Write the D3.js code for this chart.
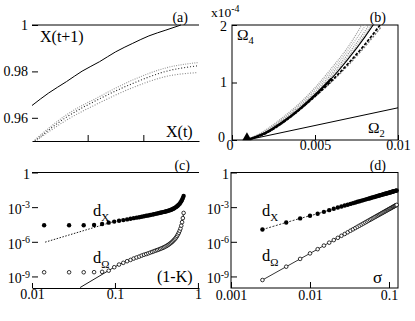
<!DOCTYPE html>
<html><head><meta charset="utf-8">
<script src="https://cdn.jsdelivr.net/npm/d3@7"></script>
<style>
html,body{margin:0;padding:0;background:#fff;}
svg{display:block;}
svg text{font-family:"Liberation Serif","Times New Roman",serif !important;}
</style>
</head><body>
<svg id="fig" width="415" height="321"></svg>
<script>
// ---------- panel (a) data ----------
const aX = [0.94, 0.946, 0.9524, 0.958, 0.9643, 0.970, 0.9762, 0.982, 0.9881, 0.9935];
const aSolid = [0.9653, 0.9707, 0.9756, 0.9801, 0.9842, 0.9884, 0.9921, 0.9953, 0.9978, 1.0];
const aDotX = [0.941, 0.9524, 0.9643, 0.9762, 0.9881, 0.9995];
const aDotUpper = [0.9505, 0.9613, 0.9692, 0.9763, 0.9815, 0.9838];
const aDotMid = [0.9500, 0.9603, 0.9682, 0.9748, 0.9800, 0.9824];
const aDotLower = [0.9497, 0.9590, 0.9665, 0.9730, 0.9778, 0.9795];
const aYTicks = [0.96, 0.98, 1];
const aXTicks = [0.96, 0.98];

// ---------- panel (b) data (Omega in units of 1e-4) ----------
const bSigma = [0.0009, 0.002, 0.003, 0.004, 0.005, 0.006, 0.007, 0.008, 0.009];
const omega4Gray1 = [0, 0.17, 0.38, 0.62, 0.91, 1.25, 1.62, 2.08, 2.5];
const omega4Gray2 = [0, 0.16, 0.36, 0.60, 0.88, 1.20, 1.56, 1.98, 2.45];
const omega4Gray3 = [0, 0.145, 0.34, 0.57, 0.84, 1.15, 1.50, 1.89, 2.35];
const omega4Gray4 = [0, 0.135, 0.32, 0.55, 0.81, 1.11, 1.45, 1.83, 2.28];
const omega4Solid = [0, 0.12, 0.30, 0.52, 0.78, 1.07, 1.41, 1.79, 2.22];
const omega4Dashed = [0, 0.11, 0.29, 0.51, 0.76, 1.03, 1.33, 1.66, 2.03];
const omega4GrayDash = [0, 0.105, 0.28, 0.50, 0.75, 1.01, 1.30, 1.62, 1.97];
const omega2Sigma = [0.0009, 0.01];
const omega2 = [0, 0.56];
const bXTicks = [0, 0.005, 0.01];
const bXLabels = ["0", "0.005", "0.01"];
const bYTicks = [0, 1, 2];

// ---------- panel (c) data ----------
const oneMinusK = [0.014,0.028,0.042,0.056,0.07,0.084,0.098,0.112,0.126,0.14,0.154,0.168,0.182,0.196,0.21,0.224,
  0.238,0.252,0.266,0.28,0.294,0.308,0.322,0.336,0.35,0.364,0.378,0.392,0.406,0.42,0.434,0.448,0.462,0.476,0.49,
  0.504,0.518,0.532,0.546,0.56,0.574,0.588,0.602,0.616,0.63,0.644,0.658,0.672];
const dXc = [2.69e-5,2.69e-5,2.75e-5,2.88e-5,3.47e-5,4.57e-5,5.62e-5,6.61e-5,7.59e-5,8.71e-5,1.0e-4,1.12e-4,1.23e-4,
  1.35e-4,1.48e-4,1.62e-4,1.78e-4,1.91e-4,2.09e-4,2.24e-4,2.40e-4,2.63e-4,2.82e-4,3.02e-4,3.24e-4,3.47e-4,3.72e-4,
  3.89e-4,4.17e-4,4.47e-4,4.79e-4,5.13e-4,5.50e-4,6.03e-4,6.61e-4,7.24e-4,8.13e-4,9.12e-4,1.05e-3,1.20e-3,1.41e-3,
  1.66e-3,2.0e-3,2.51e-3,3.31e-3,4.47e-3,6.31e-3,9.33e-3];
const dOmegaC = [2.3e-9,2.3e-9,2.3e-9,2.35e-9,2.5e-9,3.16e-9,6.31e-9,1.07e-8,1.51e-8,2.09e-8,2.69e-8,3.55e-8,4.37e-8,
  5.25e-8,6.46e-8,7.59e-8,8.71e-8,1.0e-7,1.15e-7,1.32e-7,1.51e-7,1.70e-7,1.91e-7,2.14e-7,2.40e-7,2.69e-7,3.02e-7,
  3.39e-7,3.89e-7,4.47e-7,5.13e-7,6.03e-7,7.08e-7,8.32e-7,1.0e-6,1.23e-6,1.51e-6,1.86e-6,2.40e-6,3.16e-6,4.37e-6,
  6.03e-6,8.91e-6,1.41e-5,2.51e-5,5.01e-5,1.12e-4,3.16e-4];
const fitXcK = [0.0144, 0.095];
const fitXcD = [9.3e-7, 5.4e-5];
const fitOcStartK = [0.038];
const fitOcStartD = [1.1e-10];
const cXTicks = [0.01, 0.1, 1];
const cXLabels = ["0.01", "0.1", "1"];
const logYTicks = [1e-9, 1e-6, 1e-3, 1];
const logYExp = ["-9", "-6", "-3", ""];

// ---------- panel (d) data ----------
const sigmaD = [0.0025,0.005,0.0075,0.01,0.0125,0.015,0.0175,0.02,0.0225,0.025,0.0275,0.03,0.0325,0.035,0.0375,0.04,
  0.0425,0.045,0.0475,0.05,0.0525,0.055,0.0575,0.06,0.0625,0.065,0.0675,0.07,0.0725,0.075,0.0775,0.08,0.0825,0.085,
  0.0875,0.09,0.0925,0.095,0.0975,0.1,0.1025,0.105,0.1075,0.11,0.1125,0.115,0.1175,0.12,0.1225,0.125];
const dXd = [1.15e-5,4.7e-5,1.06e-4,1.8e-4,2.7e-4,3.9e-4,5.5e-4,7.2e-4,9.2e-4,1.13e-3,1.37e-3,1.63e-3,1.92e-3,2.22e-3,
  2.55e-3,2.90e-3,3.26e-3,3.66e-3,4.08e-3,4.52e-3,4.98e-3,5.45e-3,5.96e-3,6.48e-3,7.03e-3,7.60e-3,8.16e-3,8.79e-3,
  9.42e-3,1.01e-2,1.08e-2,1.15e-2,1.22e-2,1.29e-2,1.37e-2,1.45e-2,1.53e-2,1.61e-2,1.70e-2,1.79e-2,1.88e-2,1.97e-2,
  2.06e-2,2.15e-2,2.25e-2,2.36e-2,2.46e-2,2.56e-2,2.67e-2,2.78e-2];
const dOmegaD = [4.9e-10,7.0e-9,3.3e-8,9.9e-8,2.3e-7,4.7e-7,8.4e-7,1.41e-6,2.21e-6,3.31e-6,4.75e-6,6.65e-6,9.06e-6,
  1.20e-5,1.56e-5,2.00e-5,2.52e-5,3.14e-5,3.88e-5,4.71e-5,5.66e-5,6.76e-5,8.05e-5,9.44e-5,1.11e-4,1.29e-4,1.48e-4,
  1.71e-4,1.95e-4,2.22e-4,2.52e-4,2.84e-4,3.22e-4,3.58e-4,4.02e-4,4.46e-4,4.95e-4,5.51e-4,6.08e-4,6.70e-4,7.38e-4,
  8.05e-4,8.79e-4,9.62e-4,1.05e-3,1.15e-3,1.24e-3,1.34e-3,1.46e-3,1.57e-3];
const dXTicks = [0.001, 0.01, 0.1];
const dXLabels = ["0.001", "0.01", "0.1"];

// ================= drawing =================
const FONT = "'Liberation Serif', 'Times New Roman', serif";
const svg = d3.select("#fig");
svg.append("rect").attr("width", 415).attr("height", 321).attr("fill", "#fff");
const TICKFONT = 14;

function styleAxis(g) {
  g.attr("font-family", FONT);
  g.selectAll("path.domain").attr("stroke", "#000").attr("stroke-width", 1);
  g.selectAll(".tick line").attr("stroke", "#000").attr("stroke-width", 1);
  g.selectAll("text").attr("font-family", FONT).attr("font-size", TICKFONT).attr("fill", "#000");
}
function logLabels(g) {
  g.selectAll(".tick text").each(function(d) {
    const t = d3.select(this);
    const e = logYExp[logYTicks.indexOf(d)];
    t.text(null);
    if (e === "") { t.text("1"); return; }
    t.append("tspan").text("10");
    t.append("tspan").attr("dy", -5.5).attr("font-size", 10).text(e);
  });
}
function txt(x, y, s, size, anchor) {
  return svg.append("text").attr("x", x).attr("y", y).attr("font-size", size).attr("font-family", FONT)
    .attr("text-anchor", anchor || "start").attr("fill", "#000").text(s);
}
function subTxt(x, y, main, sub, size, subSize, dy) {
  const t = svg.append("text").attr("x", x).attr("y", y).attr("font-size", size).attr("font-family", FONT).attr("fill", "#000");
  t.append("tspan").text(main);
  t.append("tspan").attr("dy", dy).attr("font-size", subSize).text(sub);
  return t;
}

// ---------- (a) ----------
const xa = d3.scaleLinear().domain([0.94, 1.0]).range([32, 199]);
const ya = d3.scaleLinear().domain([0.95, 1.0]).range([141, 25]);
svg.append("line").attr("x1", 32).attr("x2", 199).attr("y1", ya(1)).attr("y2", ya(1)).attr("stroke", "#000");
svg.append("g").attr("transform", `translate(0,${ya(0.95)})`)
  .call(d3.axisBottom(xa).tickValues(aXTicks).tickSizeInner(-6).tickSizeOuter(0).tickFormat(""))
  .call(styleAxis);
const gaY = svg.append("g").attr("transform", `translate(32,0)`)
  .call(d3.axisLeft(ya).tickValues(aYTicks).tickSizeInner(-6).tickSizeOuter(0).tickPadding(4)
    .tickFormat(d => d === 1 ? "1" : d3.format(".2f")(d)))
  .call(styleAxis);
gaY.select("path.domain").remove();

svg.append("clipPath").attr("id", "clipA").append("rect")
  .attr("x", 32).attr("y", 24).attr("width", 167).attr("height", 117);
const lineA = d3.line().curve(d3.curveMonotoneX);
const pa = svg.append("g").attr("clip-path", "url(#clipA)");
[[aDotLower, "#888", "1,1.6"], [aDotMid, "#222", "1,2"], [aDotUpper, "#999", "1,1.3"]].forEach(([ys, col, da]) => {
  pa.append("path").attr("d", lineA(aDotX.map((x, i) => [xa(x), ya(ys[i])])))
    .attr("fill", "none").attr("stroke", col).attr("stroke-width", 1.1).attr("stroke-dasharray", da);
});
pa.append("path").attr("d", lineA(aX.map((x, i) => [xa(x), ya(aSolid[i])])))
  .attr("fill", "none").attr("stroke", "#000").attr("stroke-width", 1);
txt(40, 42, "X(t+1)", 16);
txt(166, 137, "X(t)", 16);
txt(188, 22, "(a)", 14, "end");

// ---------- (b) ----------
const xb = d3.scaleLinear().domain([0, 0.01]).range([232, 398]);
const yb = d3.scaleLinear().domain([0, 2]).range([140, 25]);
svg.append("rect").attr("x", 232).attr("y", 25).attr("width", 166).attr("height", 115)
  .attr("fill", "none").attr("stroke", "#000");
const gbX = svg.append("g").attr("transform", `translate(0,140)`)
  .call(d3.axisBottom(xb).tickValues(bXTicks).tickSizeInner(-5).tickSizeOuter(0).tickPadding(0.5)
    .tickFormat((d, i) => bXLabels[i]))
  .call(styleAxis);
gbX.select("path.domain").remove();
gbX.selectAll(".tick text").filter(d => d === 0).attr("dx", -2.5);
const gbY = svg.append("g").attr("transform", `translate(232,0)`)
  .call(d3.axisLeft(yb).tickValues(bYTicks).tickSizeInner(-5).tickSizeOuter(0).tickPadding(5)
    .tickFormat(d3.format("d")))
  .call(styleAxis);
gbY.select("path.domain").remove();
gbY.selectAll(".tick text").filter(d => d === 0).attr("dy", "0.1em").attr("dx", -2);
gbY.selectAll(".tick text").filter(d => d === 2).attr("dy", "0.42em");
const xe = svg.append("text").attr("x", 211).attr("y", 16.5).attr("font-size", 13.5).attr("font-family", FONT);
xe.append("tspan").text("x10");
xe.append("tspan").attr("dy", -5).attr("font-size", 10).text("-4");

svg.append("clipPath").attr("id", "clipB").append("rect")
  .attr("x", 232).attr("y", 25).attr("width", 166).attr("height", 115);
const pb = svg.append("g").attr("clip-path", "url(#clipB)");
const lineB = d3.line().curve(d3.curveMonotoneX);
[[omega4Gray1, "#9a9a9a", "1,1"], [omega4Gray2, "#b0b0b0", "1,1"], [omega4Gray3, "#8c8c8c", "1,1.2"],
 [omega4Gray4, "#a8a8a8", "1,1"]].forEach(([vs, col, da]) => {
  pb.append("path").attr("d", lineB(bSigma.map((s, i) => [xb(s), yb(vs[i])])))
    .attr("fill", "none").attr("stroke", col).attr("stroke-width", 1.2).attr("stroke-dasharray", da);
});
pb.append("path").attr("d", lineB(bSigma.map((s, i) => [xb(s), yb(omega4GrayDash[i])])))
  .attr("fill", "none").attr("stroke", "#777").attr("stroke-width", 1.2).attr("stroke-dasharray", "2,1.5");
pb.append("path").attr("d", lineB(bSigma.map((s, i) => [xb(s), yb(omega4Dashed[i])])))
  .attr("fill", "none").attr("stroke", "#000").attr("stroke-width", 1.7).attr("stroke-dasharray", "3,1.5");
pb.append("path").attr("d", lineB(bSigma.map((s, i) => [xb(s), yb(omega4Solid[i])])))
  .attr("fill", "none").attr("stroke", "#000").attr("stroke-width", 1.1);
pb.append("path").attr("d", lineB(bSigma.slice(0, 6).map((s, i) => [xb(s), yb(omega4Solid[i])])))
  .attr("fill", "none").attr("stroke", "#000").attr("stroke-width", 2.2);
pb.append("path").attr("d", d3.line()(omega2Sigma.map((s, i) => [xb(s), yb(omega2[i])])))
  .attr("fill", "none").attr("stroke", "#000").attr("stroke-width", 1);
svg.append("path").attr("d", d3.symbol(d3.symbolTriangle, 36)())
  .attr("transform", `translate(${xb(omega2Sigma[0])},${yb(0) - 2.5})`).attr("fill", "#000");
subTxt(237, 40, "\u03A9", "4", 15.5, 10.5, 4);
subTxt(368, 133, "\u03A9", "2", 15.5, 10.5, 4);
txt(386, 22, "(b)", 14, "end");

// ---------- (c) ----------
const xc = d3.scaleLog().domain([0.01, 1.03]).range([32, 199]);
const yc = d3.scaleLog().domain([1e-10, 1]).range([288, 172.5]);
svg.append("line").attr("x1", 32).attr("x2", 199).attr("y1", yc(1)).attr("y2", yc(1)).attr("stroke", "#000");
svg.append("g").attr("transform", `translate(0,288)`)
  .call(d3.axisBottom(xc).tickValues(cXTicks).tickSizeInner(-5).tickSizeOuter(0).tickPadding(1.5)
    .tickFormat((d, i) => cXLabels[i]))
  .call(styleAxis);
const gcY = svg.append("g").attr("transform", `translate(32,0)`)
  .call(d3.axisLeft(yc).tickValues(logYTicks).tickSizeInner(-6).tickSizeOuter(0).tickPadding(2))
  .call(styleAxis).call(logLabels);
gcY.select("path.domain").remove();
gcY.selectAll(".tick text").attr("dy", "0.45em");

svg.append("clipPath").attr("id", "clipC").append("rect")
  .attr("x", 32).attr("y", 172).attr("width", 170).attr("height", 116);
const pc = svg.append("g").attr("clip-path", "url(#clipC)");
pc.append("path").attr("d", d3.line()(fitXcK.map((k, i) => [xc(k), yc(fitXcD[i])])))
  .attr("fill", "none").attr("stroke", "#000").attr("stroke-width", 0.9).attr("stroke-dasharray", "1.5,1.5");
const fitOK = fitOcStartK.concat(oneMinusK.slice(6));
const fitOD = fitOcStartD.concat(dOmegaC.slice(6));
pc.append("path").attr("d", d3.line()(fitOK.map((k, i) => [xc(k), yc(fitOD[i])])))
  .attr("fill", "none").attr("stroke", "#000").attr("stroke-width", 0.9);
pc.selectAll("circle.dx").data(oneMinusK).join("circle").attr("class", "dx")
  .attr("cx", d => xc(d)).attr("cy", (d, i) => yc(dXc[i])).attr("r", 2.2).attr("fill", "#000");
pc.selectAll("circle.do").data(oneMinusK).join("circle").attr("class", "do")
  .attr("cx", d => xc(d)).attr("cy", (d, i) => yc(dOmegaC[i])).attr("r", 1.8)
  .attr("fill", "#fff").attr("stroke", "#000").attr("stroke-width", 0.8);
subTxt(93, 216, "d", "X", 16.5, 11, 5);
subTxt(93, 263, "d", "\u03A9", 16.5, 11, 5);
txt(157, 282, "(1-K)", 16);
txt(190, 170, "(c)", 14, "end");

// ---------- (d) ----------
const xd = d3.scaleLog().domain([0.001, 0.13]).range([231, 398]);
const yd = d3.scaleLog().domain([1e-10, 1]).range([288, 172.5]);
svg.append("rect").attr("x", 231).attr("y", 172.5).attr("width", 167).attr("height", 115.5)
  .attr("fill", "none").attr("stroke", "#000");
const gdX = svg.append("g").attr("transform", `translate(0,288)`)
  .call(d3.axisBottom(xd).tickValues(dXTicks).tickSizeInner(-6).tickSizeOuter(0).tickPadding(2)
    .tickFormat((d, i) => dXLabels[i]))
  .call(styleAxis);
gdX.select("path.domain").remove();
const gdY = svg.append("g").attr("transform", `translate(231,0)`)
  .call(d3.axisLeft(yd).tickValues(logYTicks).tickSizeInner(-6).tickSizeOuter(0).tickPadding(2))
  .call(styleAxis).call(logLabels);
gdY.select("path.domain").remove();
gdY.selectAll(".tick text").attr("dy", "0.45em");

const pd = svg.append("g");
pd.append("path").attr("d", d3.line()(sigmaD.map((s, i) => [xd(s), yd(dXd[i])])))
  .attr("fill", "none").attr("stroke", "#000").attr("stroke-width", 0.8).attr("stroke-dasharray", "2,1.5");
pd.append("path").attr("d", d3.line()(sigmaD.map((s, i) => [xd(s), yd(dOmegaD[i])])))
  .attr("fill", "none").attr("stroke", "#000").attr("stroke-width", 0.8);
pd.selectAll("circle.dx").data(sigmaD).join("circle").attr("class", "dx")
  .attr("cx", d => xd(d)).attr("cy", (d, i) => yd(dXd[i])).attr("r", 2.2).attr("fill", "#000");
pd.selectAll("circle.do").data(sigmaD).join("circle").attr("class", "do")
  .attr("cx", d => xd(d)).attr("cy", (d, i) => yd(dOmegaD[i])).attr("r", 1.8)
  .attr("fill", "#fff").attr("stroke", "#000").attr("stroke-width", 0.8);
subTxt(262, 216, "d", "X", 16.5, 11, 5);
subTxt(262, 261, "d", "\u03A9", 16.5, 11, 5);
txt(373, 283, "\u03C3", 17);
txt(386, 170, "(d)", 14, "end");
</script>
</body></html>
